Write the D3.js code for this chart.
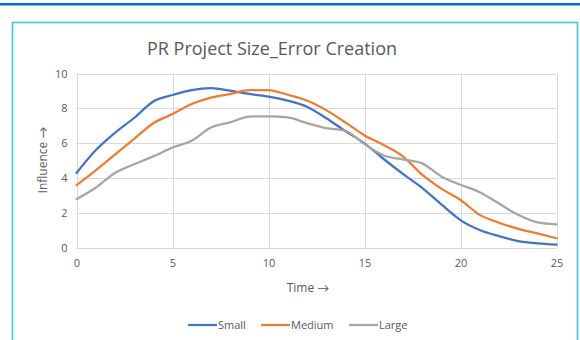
<!DOCTYPE html>
<html>
<head>
<meta charset="utf-8">
<script src="https://cdn.jsdelivr.net/npm/d3@7"></script>
<style>
  html, body { margin: 0; padding: 0; background: #fff; }
  svg { display: block; font-family: "Open Sans", Lato, "Liberation Sans", sans-serif; }
</style>
</head>
<body>
<svg id="chart" width="580" height="340"></svg>
<script>
// Influence over time for three project sizes
const time = d3.range(0, 26);
const small = [4.3, 5.6, 6.6, 7.45, 8.4, 8.77, 9.05, 9.16, 9.02, 8.83, 8.68, 8.45, 8.1, 7.45, 6.7, 6.0, 5.1, 4.25, 3.45, 2.5, 1.6, 1.03, 0.68, 0.4, 0.27, 0.2];
const medium = [3.6, 4.45, 5.35, 6.25, 7.15, 7.68, 8.25, 8.62, 8.82, 9.05, 9.05, 8.78, 8.45, 7.9, 7.2, 6.45, 5.9, 5.25, 4.2, 3.4, 2.75, 1.9, 1.45, 1.1, 0.84, 0.56];
const large = [2.8, 3.45, 4.3, 4.8, 5.25, 5.76, 6.15, 6.9, 7.2, 7.53, 7.55, 7.48, 7.16, 6.87, 6.72, 5.95, 5.3, 5.08, 4.85, 4.1, 3.62, 3.2, 2.55, 1.9, 1.47, 1.36];
const seriesNames = ["Small", "Medium", "Large"];
const seriesColors = ["#4472C4", "#ED7D31", "#A5A5A5"];
const xTicks = [0, 5, 10, 15, 20, 25];
const yTicks = [0, 2, 4, 6, 8, 10];

const series = [small, medium, large].map((vals, i) => ({
  name: seriesNames[i], color: seriesColors[i],
  points: vals.map((v, j) => [time[j], v])
}));

const svg = d3.select("#chart");

// page accent line and chart frame
svg.append("rect").attr("x", 0).attr("y", 3).attr("width", 580).attr("height", 2.5).attr("fill", "#0070C0");
svg.append("rect").attr("x", 12.5).attr("y", 22.5).attr("width", 565).attr("height", 330)
  .attr("fill", "#fff").attr("stroke", "#3CC4F2").attr("stroke-width", 1.6);

const x = d3.scaleLinear().domain([0, 25]).range([76.5, 556.5]);
const y = d3.scaleLinear().domain([0, 10]).range([248, 73.5]);

// gridlines
const grid = svg.append("g").attr("stroke", "#D9D9D9").attr("stroke-width", 1);
grid.selectAll(".h").data(yTicks).join("line")
  .attr("x1", x(0)).attr("x2", x(25)).attr("y1", d => Math.round(y(d)) + 0.5).attr("y2", d => Math.round(y(d)) + 0.5);
grid.selectAll(".v").data(xTicks).join("line")
  .attr("y1", y(0)).attr("y2", y(10)).attr("x1", d => Math.round(x(d)) + 0.5).attr("x2", d => Math.round(x(d)) + 0.5);

// axes (labels only, gridlines drawn above)
const xAxis = svg.append("g").attr("transform", `translate(0,${y(0)})`)
  .call(d3.axisBottom(x).tickValues(xTicks).tickSize(0).tickPadding(11));
const yAxis = svg.append("g").attr("transform", `translate(${x(0)},0)`)
  .call(d3.axisLeft(y).tickValues(yTicks).tickSize(0).tickPadding(9));
[xAxis, yAxis].forEach(a => {
  a.select(".domain").remove();
  a.selectAll("text").attr("fill", "#595959").attr("font-size", 11)
    .attr("font-family", "'Open Sans', Lato, sans-serif");
});
svg.append("line").attr("x1", x(0)).attr("x2", x(25)).attr("y1", y(0) + 0.5).attr("y2", y(0) + 0.5)
  .attr("stroke", "#D9D9D9");

// lines
const line = d3.line().x(d => x(d[0])).y(d => y(d[1])).curve(d3.curveMonotoneX);
svg.append("g").selectAll("path").data(series).join("path")
  .attr("d", d => line(d.points)).attr("fill", "none")
  .attr("stroke", d => d.color).attr("stroke-width", 2.25)
  .attr("stroke-linejoin", "round").attr("stroke-linecap", "round");

// title and axis titles
svg.append("text").attr("x", 272).attr("y", 55).attr("text-anchor", "middle")
  .attr("font-size", 18).attr("fill", "#595959").text("PR Project Size_Error Creation");
svg.append("text").attr("transform", "translate(47,160) rotate(-90)").attr("text-anchor", "middle")
  .attr("font-size", 12).attr("fill", "#595959").text("Influence →");
svg.append("text").attr("x", 308).attr("y", 292).attr("text-anchor", "middle")
  .attr("font-size", 12).attr("fill", "#595959").text("Time →");

// legend
const legendX = [188, 261, 349];
const lg = svg.append("g").selectAll("g").data(series).join("g")
  .attr("transform", (d, i) => `translate(${legendX[i]},325)`);
lg.append("line").attr("x1", 0).attr("x2", 29).attr("stroke", d => d.color).attr("stroke-width", 2.25);
lg.append("text").attr("x", 30).attr("y", 4).attr("font-size", 11).attr("fill", "#595959").text(d => d.name);
</script>
</body>
</html>
